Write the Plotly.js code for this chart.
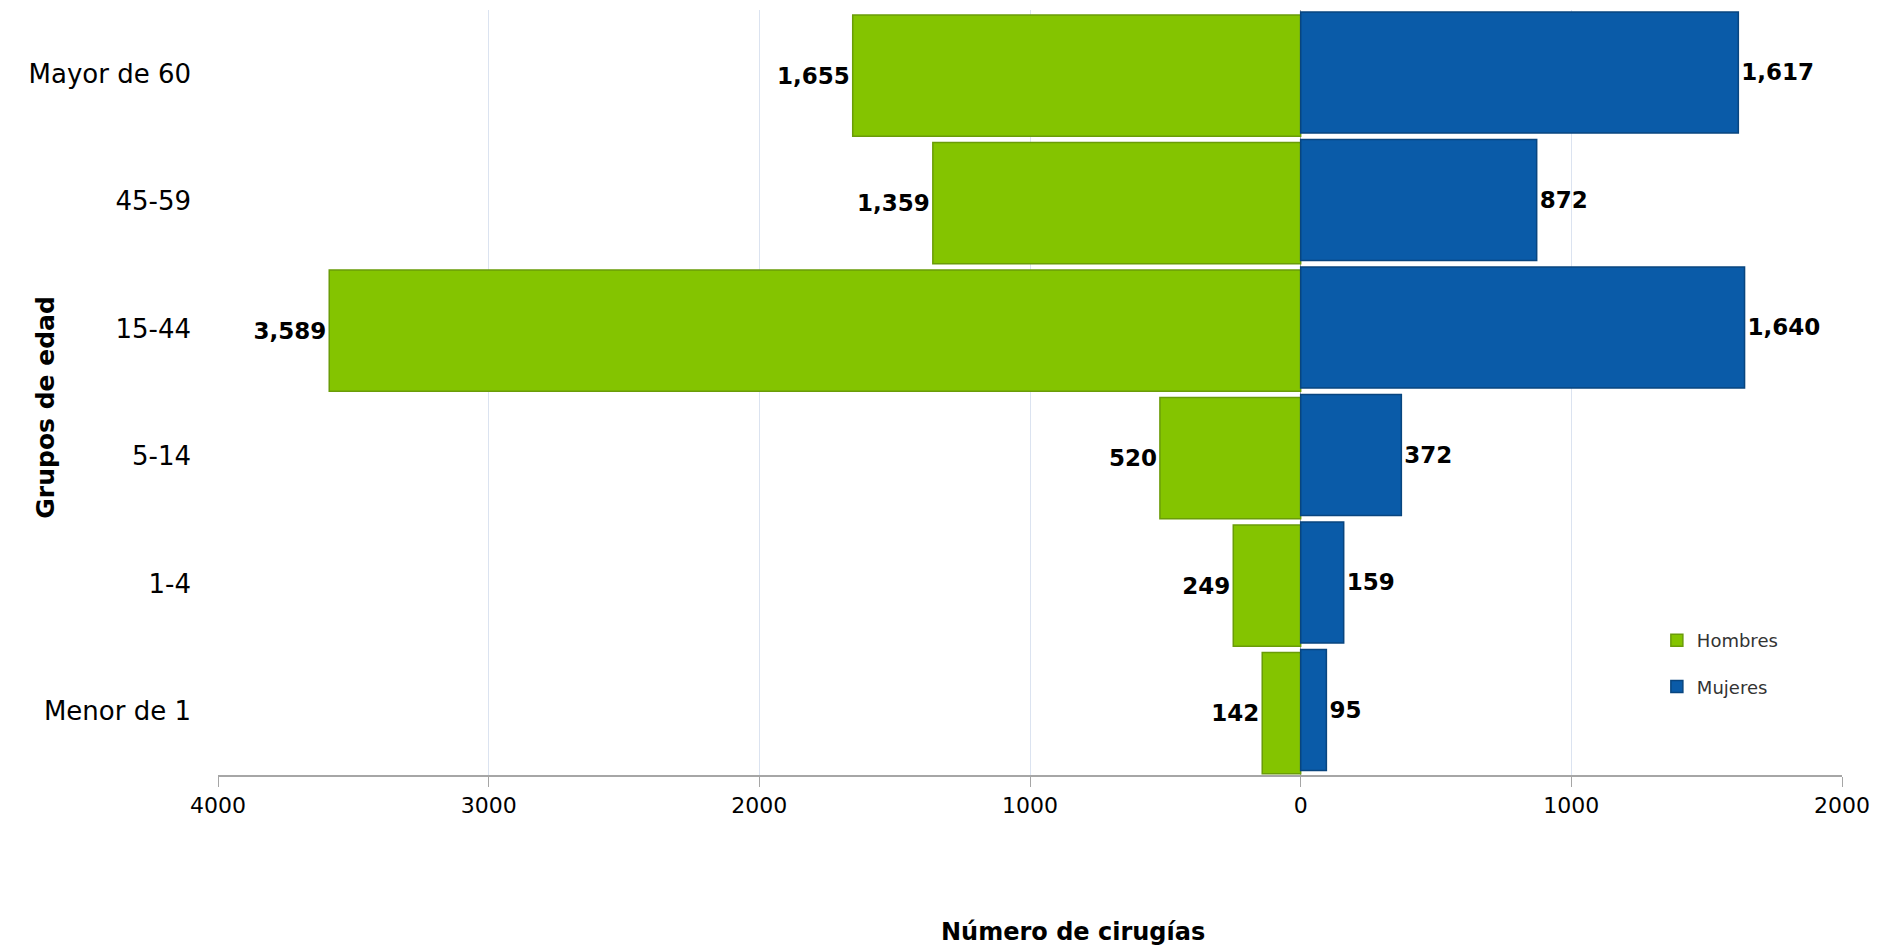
<!DOCTYPE html>
<html>
<head>
<meta charset="utf-8">
<script src="https://cdn.plot.ly/plotly-3.0.1.min.js"></script>
<style>html,body{margin:0;padding:0;background:#fff;}#chart{width:1880px;height:948px;}</style>
</head>
<body>
<div id="chart"></div>
<script>
const categories = ["Menor de 1", "1-4", "5-14", "15-44", "45-59", "Mayor de 60"];
const hombres = [142, 249, 520, 3589, 1359, 1655];
const mujeres = [95, 159, 372, 1640, 872, 1617];
const xTickVals = [-4000, -3000, -2000, -1000, 0, 1000, 2000];
const xTickText = ["4000", "3000", "2000", "1000", "0", "1000", "2000"];

const fmt = v => v.toLocaleString('en-US');
const FONT = "DejaVu Sans, Lato, sans-serif";

const traces = [
  {
    type: 'bar', orientation: 'h', name: 'Hombres', legendgroup: 'h',
    y: categories, x: hombres.map(v => -v),
    text: hombres.map(fmt), textposition: 'outside', cliponaxis: false,
    textfont: {family: FONT, size: 23, color: '#000', weight: 'bold'},
    marker: {color: '#84c400', line: {color: '#6a9c08', width: 1.5}},
    width: 0.95, offset: -0.49, hoverinfo: 'skip'
  },
  {
    type: 'bar', orientation: 'h', name: 'Mujeres', legendgroup: 'm',
    y: categories, x: mujeres,
    text: mujeres.map(fmt), textposition: 'outside', cliponaxis: false,
    textfont: {family: FONT, size: 23, color: '#000', weight: 'bold'},
    marker: {color: '#0a5ba8', line: {color: '#08457f', width: 1.5}},
    width: 0.95, offset: -0.465, hoverinfo: 'skip'
  }
];

const layout = {
  width: 1880, height: 948,
  margin: {l: 218, r: 38, t: 10, b: 173},
  paper_bgcolor: '#fff', plot_bgcolor: '#fff',
  barmode: 'overlay',
  font: {family: FONT, color: '#000'},
  showlegend: true,
  legend: {
    x: 0.886, y: 0.2, xanchor: 'left', yanchor: 'top',
    font: {family: FONT, size: 18, color: '#333'},
    tracegroupgap: 20, bgcolor: 'rgba(0,0,0,0)', itemwidth: 30
  },
  xaxis: {
    range: [-4000, 2000], tickmode: 'array', tickvals: xTickVals, ticktext: xTickText,
    showgrid: true, gridcolor: '#dbe3f0', gridwidth: 1,
    zeroline: true, zerolinecolor: '#a6a6a6', zerolinewidth: 1,
    showline: true, linecolor: '#a6a6a6', linewidth: 2,
    ticks: 'outside', ticklen: 10, tickcolor: '#a6a6a6',
    tickfont: {family: FONT, size: 22, color: '#000'}, fixedrange: true
  },
  yaxis: {
    type: 'category', range: [-0.5, 5.5],
    showgrid: false, zeroline: false, showline: false, ticks: '',
    ticklabelstandoff: 26,
    tickfont: {family: FONT, size: 26, color: '#000'}, fixedrange: true
  },
  annotations: [
    {text: 'Grupos de edad', xref: 'paper', yref: 'paper', x: -0.106, y: 0.48,
     textangle: -90, showarrow: false, xanchor: 'center', yanchor: 'middle',
     font: {family: FONT, size: 25, color: '#000', weight: 'bold'}},
    {text: 'Número de cirugías', xref: 'paper', yref: 'paper', x: 0.5265, y: -0.205,
     showarrow: false, xanchor: 'center', yanchor: 'middle',
     font: {family: FONT, size: 24, color: '#000', weight: 'bold'}}
  ]
};

Plotly.newPlot('chart', traces, layout, {displayModeBar: false, staticPlot: true});
</script>
</body>
</html>
